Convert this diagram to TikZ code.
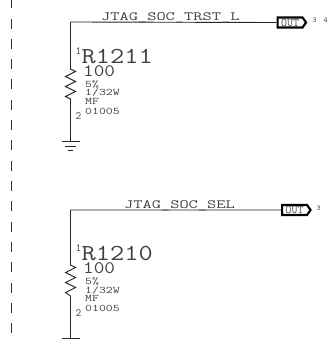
\documentclass[tikz,border=0pt]{standalone}
\usetikzlibrary{shapes.symbols}
\tikzset{
  wire/.style={draw=black!85,line width=0.9pt},
  txt/.style={inner sep=0pt,anchor=base west,text=black!75},
  netlab/.style={txt,font=\fontsize{17.9}{18}\selectfont\ttfamily,yscale=.7},
  refdes/.style={txt,font=\fontsize{27.6}{28}\selectfont\ttfamily,yscale=.83},
  valtxt/.style={txt,font=\fontsize{20.6}{21}\selectfont\ttfamily,yscale=.85},
  small/.style={txt,font=\fontsize{13.4}{14}\selectfont\ttfamily,yscale=.75},
  pinnum/.style={txt,font=\fontsize{11}{11}\selectfont\ttfamily},
  xref/.style={txt,font=\fontsize{7.5}{8}\selectfont\ttfamily},
  outbox/.style={draw=black,line width=2.1pt,fill=white,signal,signal to=east,signal pointer angle=110,
    minimum width=28.5pt,minimum height=10pt,inner sep=0pt,anchor=west,
    font=\fontsize{11.5}{12}\selectfont\ttfamily,text=black!70},
  dashline/.style={draw=black!80,line width=1pt,dash pattern=on 10pt off 10.3pt},
}
\begin{document}
\begin{tikzpicture}[x=1pt,y=-1pt]
\useasboundingbox (0,0) rectangle (328,339);
\coordinate (dashT) at (11,-1.7);
\coordinate (dashB) at (11,339);
\draw[dashline] (dashT) -- (dashB);
% first net
\coordinate (c1) at (70.5,22);
\coordinate (z1a) at (70.5,69);
\coordinate (z1b) at (70.5,99);
\coordinate (g1) at (70.5,141);
\node[outbox] (o1) at (276.5,22.5) {OUT};
\draw[wire] (o1.west) -- (c1) -- (z1a) -- ++(5,2.5) -- ++(-10,5) -- ++(10,5) -- ++(-10,5) -- ++(10,5) -- ++(-10,5) -- (z1b) -- (g1);
\coordinate (g1l) at (62,141); \coordinate (g1r) at (80,141);
\coordinate (g1bl) at (65,146); \coordinate (g1br) at (76,146);
\coordinate (g1cl) at (68,150.5); \coordinate (g1cr) at (73,150.5);
\draw[wire] (g1l) -- (g1r);
\draw[wire] (g1bl) -- (g1br);
\draw[wire] (g1cl) -- (g1cr);
\node[netlab] (n1) at (101,20.7) {JTAG\_SOC\_TRST\_L};
\node[pinnum] (p11) at (75.5,55) {1};
\node[refdes] (r1) at (81.5,63.3) {R1211};
\node[valtxt] (v1) at (83,76.7) {100};
\node[small] (a1) at (85,87.3) {5\%};
\node[small] (b1) at (85,96) {1/32W};
\node[small] (c1t) at (85,104.7) {MF};
\node[small] (d1) at (85,114.3) {01005};
\node[pinnum] (p12) at (75.5,119.3) {2};
\node[xref] (x1) at (312.5,23) {3};
\node[xref] (x2) at (323.5,23) {4};
% second net
\coordinate (c2) at (70.5,210);
\coordinate (z2a) at (70.5,265);
\coordinate (z2b) at (70.5,296);
\coordinate (g2) at (70.5,338);
\node[outbox] (o2) at (281,210) {OUT};
\draw[wire] (o2.west) -- (c2) -- (z2a) -- ++(5,2.5) -- ++(-10,5) -- ++(10,5) -- ++(-10,5) -- ++(10,5) -- ++(-10,5) -- (z2b) -- (g2);
\coordinate (g2l) at (62,338); \coordinate (g2r) at (80,338);
\draw[wire] (g2l) -- (g2r);
\node[netlab] (n2) at (124,208.3) {JTAG\_SOC\_SEL};
\node[pinnum] (p21) at (75.5,251.7) {1};
\node[refdes] (r2) at (81.5,260) {R1210};
\node[valtxt] (v2) at (83,273.3) {100};
\node[small] (a2) at (85,284) {5\%};
\node[small] (b2) at (85,293.3) {1/32W};
\node[small] (c2t) at (85,301.7) {MF};
\node[small] (d2) at (85,311.3) {01005};
\node[pinnum] (p22) at (75.5,316) {2};
\node[xref] (x3) at (316.5,210) {3};
\end{tikzpicture}
\end{document}
